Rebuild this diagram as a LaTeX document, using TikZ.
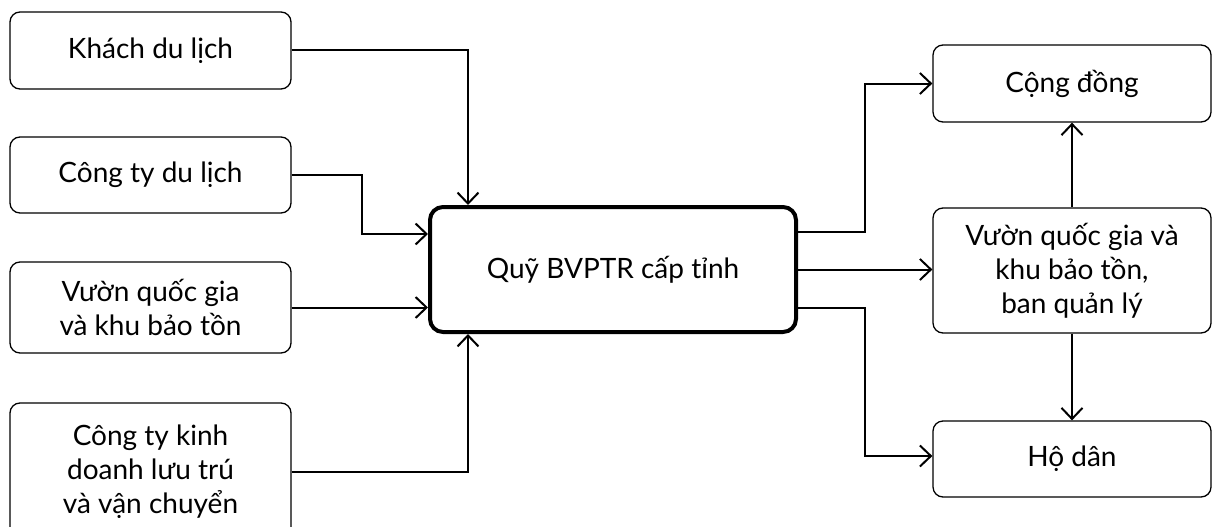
\documentclass[tikz,border=0pt]{standalone}
\usepackage{fontspec}
\setmainfont{Lato}
\usetikzlibrary{arrows.meta}
\begin{document}
\begin{tikzpicture}[x=1pt,y=-1pt,
  every node/.style={font=\fontsize{28}{34}\selectfont, align=center, inner sep=0pt},
  box/.style={draw, line width=1.3pt, rounded corners=10pt, minimum width=281pt},
  rbox/.style={draw, line width=1.3pt, rounded corners=10pt, minimum width=278pt},
  hub/.style={draw, line width=4pt, rounded corners=13pt, minimum width=366pt, minimum height=125pt},
  link/.style={line width=2pt, -{Straight Barb[length=11pt,width=21pt,line width=2pt]}}
]
\useasboundingbox (0,0) rectangle (1212,527);
\clip (0,0) rectangle (1212,527);

% sources on the left
\node[box, minimum height=77pt]  (k1) at (150.5,50.5)  {Khách du lịch};
\node[box, minimum height=76pt]  (k2) at (150.5,175)   {Công ty du lịch};
\node[box, minimum height=91pt]  (k3) at (150.5,307.5) {Vườn quốc gia\\và khu bảo tồn};
\node[box, minimum height=137pt] (k4) at (150.5,471.5) {Công ty kinh\\doanh lưu trú\\và vận chuyển};

% provincial fund
\node[hub] (q) at (613,269.5) {Quỹ BVPTR cấp tỉnh};

% recipients on the right
\node[rbox, minimum height=77pt]  (r1) at (1072,83.5)  {Cộng đồng};
\node[rbox, minimum height=125pt] (r2) at (1072,270.5) {Vườn quốc gia và\\khu bảo tồn,\\ban quản lý};
\node[rbox, minimum height=76pt]  (r3) at (1072,459)   {Hộ dân};

% inflows
\draw[link] (k1.east) -| ([xshift=-145pt]q.north);
\draw[link] (k2.east) -- ++(70,0) |- ([yshift=35.5pt]q.west);
\draw[link] (k3.east) -- (k3.east -| q.west);
\draw[link] (k4.east) -| ([xshift=-145pt]q.south);

% outflows
\draw[link] ([yshift=37.5pt]q.east) -- ++(67,0) |- (r1.west);
\draw[link] (q.east) -- (q.east -| r2.west);
\draw[link] ([yshift=-38.5pt]q.east) -- ++(67,0) |- ([yshift=3pt]r3.west);

% management board to community and households
\draw[link] (r2.north) -- (r1.south);
\draw[link] (r2.south) -- (r3.north);
\end{tikzpicture}
\end{document}
